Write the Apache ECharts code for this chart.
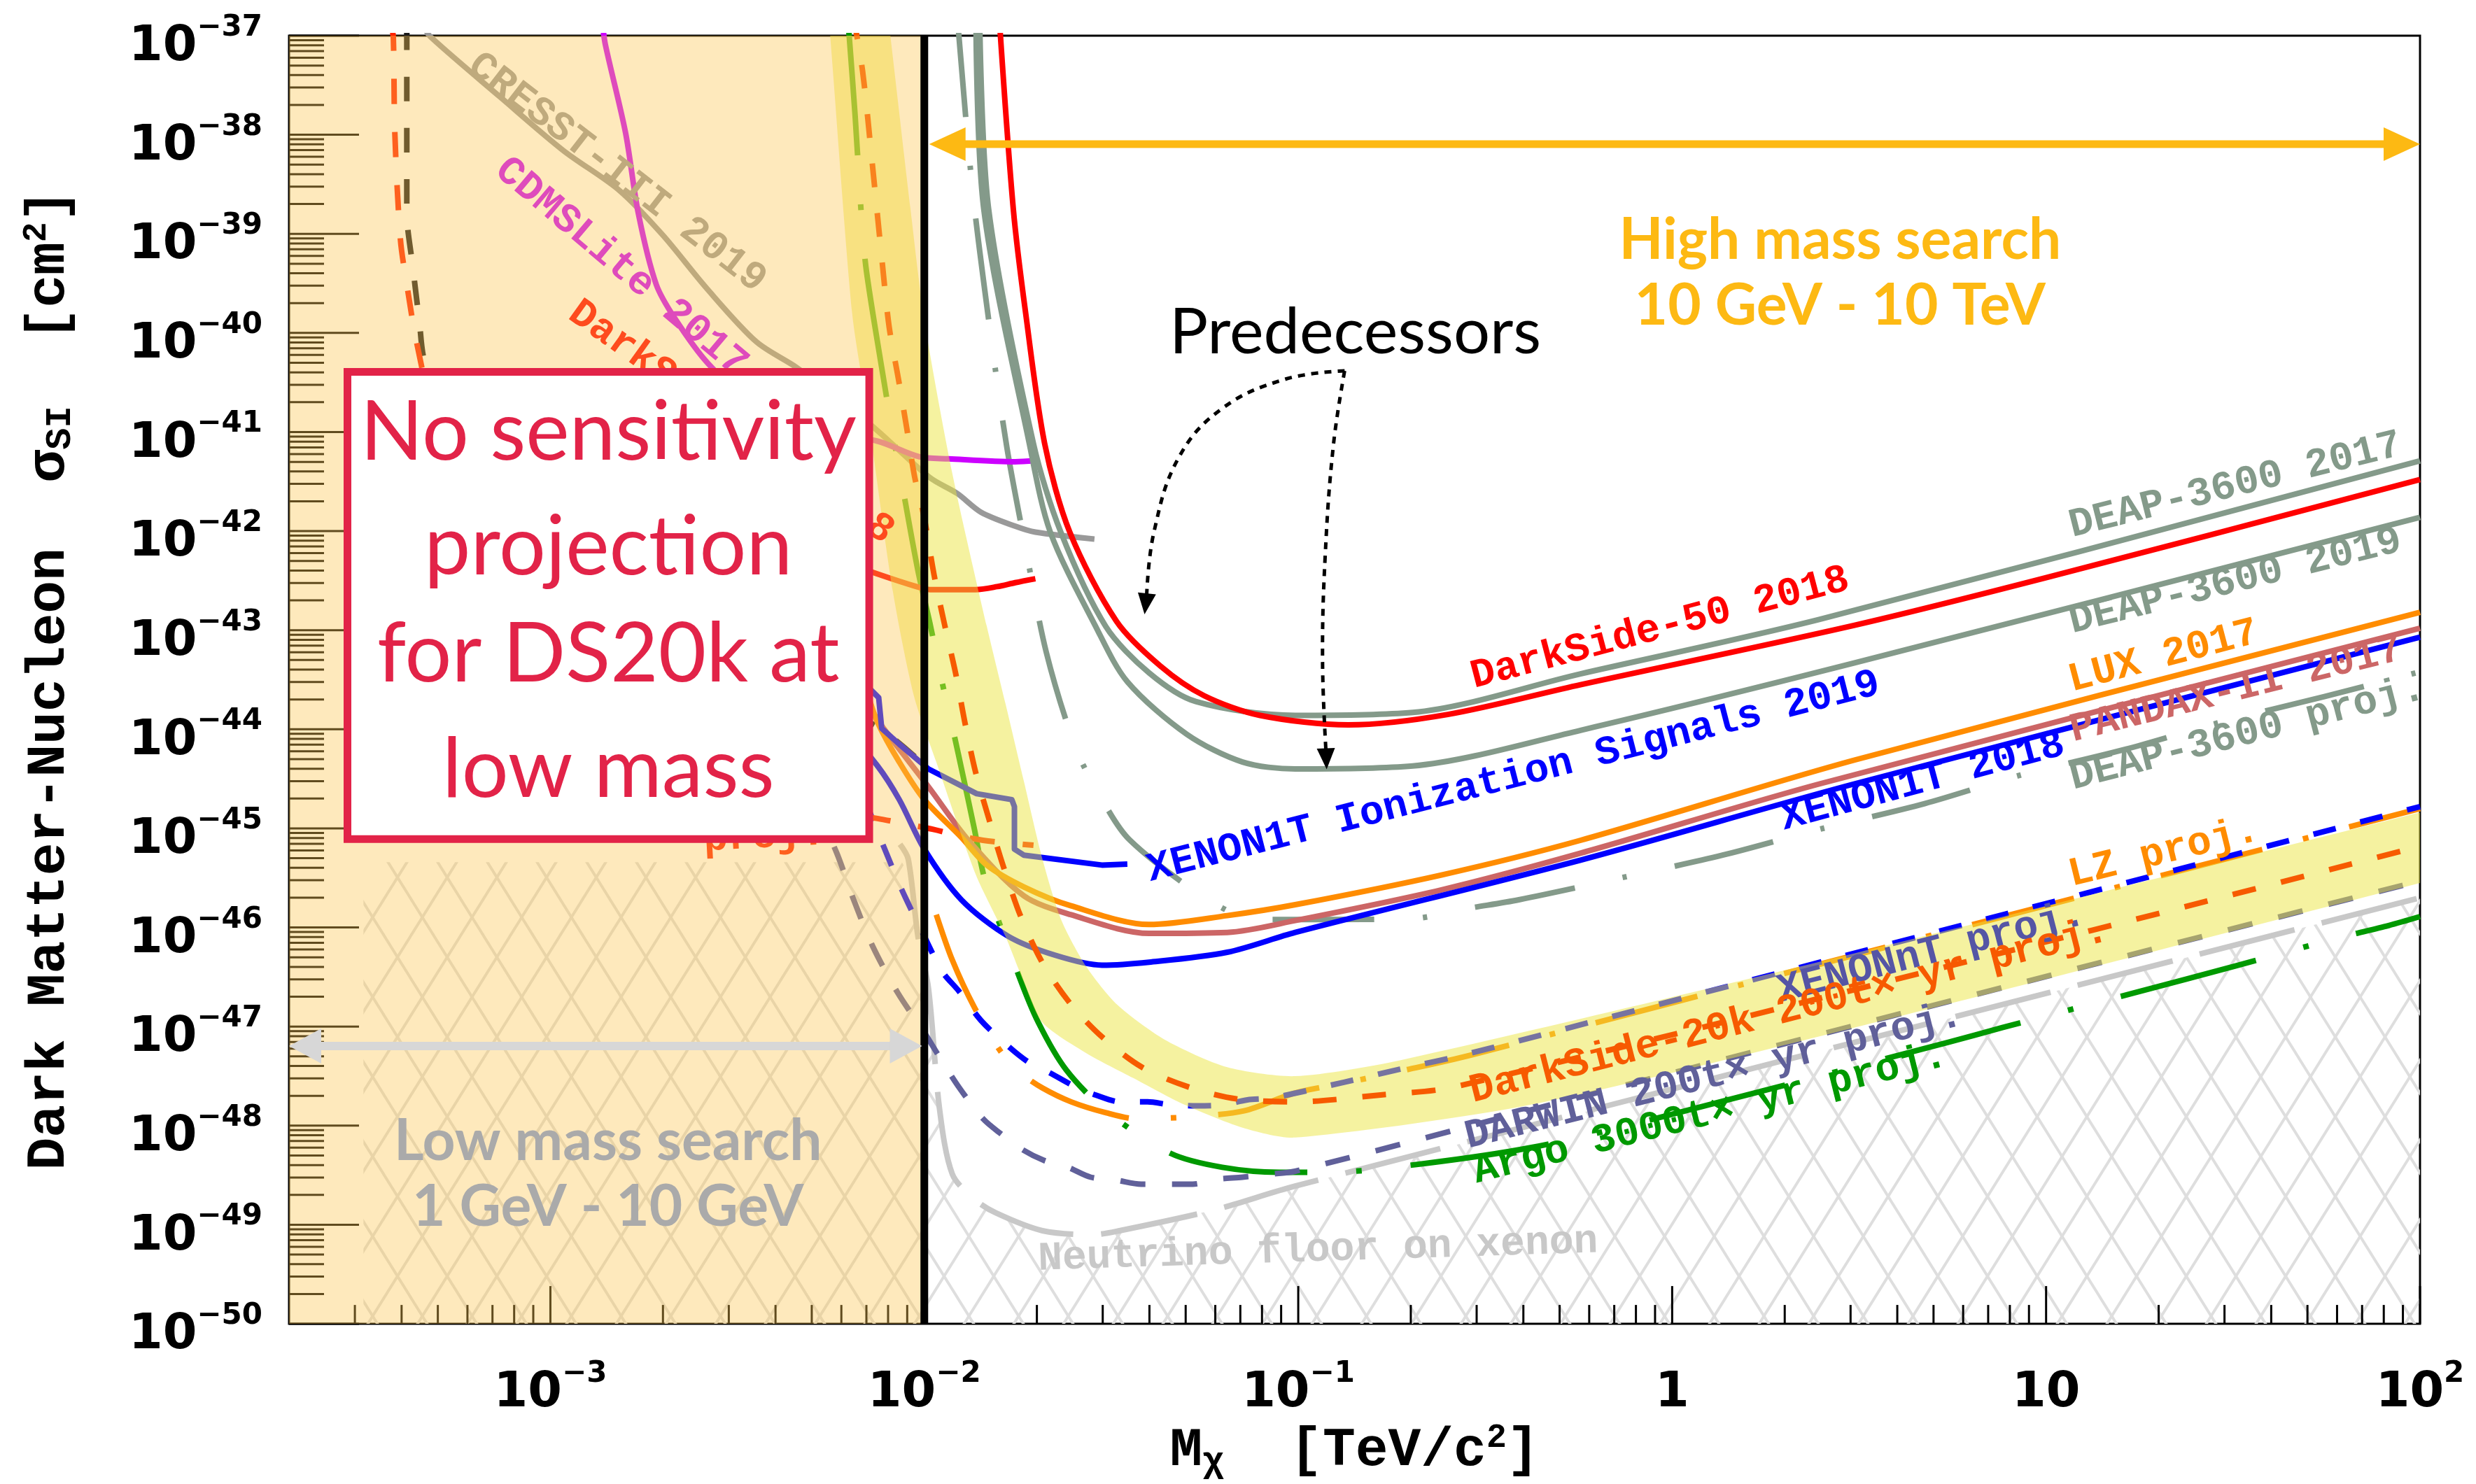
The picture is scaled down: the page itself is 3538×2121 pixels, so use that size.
<!DOCTYPE html>
<html>
<head>
<meta charset="utf-8">
<title>Dark Matter SI limits</title>
<script src="https://cdn.jsdelivr.net/npm/echarts@6.0.0/dist/echarts.min.js"></script>
<style>
html,body{margin:0;padding:0;background:#ffffff;}
#chart{width:3538px;height:2121px;}
</style>
</head>
<body>
<div id="chart"></div>
<script>
// ===== Data: every point is [log10(M / TeV), log10(sigma_SI / cm^2)] =====
const darkside50 = [[-1.800,-36.8],[-1.762,-38.75],[-1.729,-39.80],[-1.678,-41.12],[-1.611,-42.01],[-1.486,-42.91],[-1.369,-43.36],[-1.252,-43.66],[-1.102,-43.86],[-0.866,-43.955],[-0.600,-43.85],[-0.245,-43.55],[0.488,-42.95],[1.000,-42.47],[2.000,-41.48]];
const deap2017 = [[-1.852,-36.8],[-1.828,-38.75],[-1.708,-41.12],[-1.635,-42.01],[-1.515,-42.96],[-1.399,-43.43],[-1.274,-43.72],[-1.008,-43.86],[-0.694,-43.83],[-0.245,-43.44],[0.395,-42.89],[2.000,-41.29]];
const deap2019 = [[-1.862,-36.8],[-1.841,-38.75],[-1.719,-41.12],[-1.663,-42.01],[-1.542,-42.96],[-1.457,-43.52],[-1.298,-44.05],[-1.149,-44.33],[-1.008,-44.40],[-0.694,-44.37],[-0.245,-44.01],[0.488,-43.33],[2.000,-41.86]];
const deapProj = [[-1.912,-36.8],[-1.871,-38.56],[-1.820,-40.09],[-1.779,-41.16],[-1.729,-42.17],[-1.674,-43.22],[-1.596,-44.18],[-1.532,-44.66],[-1.450,-45.12],[-1.240,-45.72],[-1.111,-45.92],[-0.952,-45.92],[-0.694,-45.91],[-0.550,-45.81],[-0.410,-45.72],[-0.150,-45.51],[0.135,-45.27],[0.393,-45.01],[0.675,-44.75],[0.924,-44.47],[1.214,-44.20],[1.465,-43.93],[1.744,-43.67],[2.000,-43.42]];
const lux2017 = [[-2.150,-43.66],[-2.125,-43.93],[-2.067,-44.33],[-2.000,-44.71],[-1.901,-45.09],[-1.833,-45.37],[-1.734,-45.59],[-1.609,-45.78],[-1.399,-45.97],[-1.190,-45.88],[-1.008,-45.77],[-0.617,-45.47],[-0.245,-45.12],[0.488,-44.31],[2.000,-42.82]];
const pandax2017 = [[-2.150,-43.75],[-2.115,-43.96],[-1.987,-44.59],[-1.882,-45.12],[-1.734,-45.68],[-1.609,-45.87],[-1.399,-46.06],[-1.190,-46.05],[-1.008,-45.93],[-0.617,-45.62],[-0.245,-45.25],[0.395,-44.55],[2.000,-42.98]];
const xenon1t2018 = [[-2.250,-43.80],[-2.125,-44.37],[-2.067,-44.71],[-2.000,-45.21],[-1.901,-45.72],[-1.775,-46.09],[-1.650,-46.28],[-1.525,-46.38],[-1.399,-46.35],[-1.190,-46.25],[-1.008,-46.05],[-0.245,-45.32],[0.488,-44.55],[2.000,-43.07]];
const xenon1tS2 = [[-2.250,-43.20],[-2.122,-43.68],[-2.114,-43.99],[-2.067,-44.15],[-1.989,-44.40],[-1.860,-44.65],[-1.766,-44.71],[-1.759,-44.78],[-1.759,-45.21],[-1.734,-45.27],[-1.525,-45.37],[-1.457,-45.36]];
const cdmslite2017 = [[-2.860,-36.9],[-2.853,-37.09],[-2.799,-37.98],[-2.765,-38.79],[-2.717,-39.51],[-2.666,-39.86],[-2.578,-40.31],[-2.449,-40.75],[-2.299,-40.99],[-2.127,-41.09],[-2.013,-41.25],[-1.935,-41.27],[-1.757,-41.30],[-1.703,-41.29]];
const cresst2019 = [[-3.340,-36.9],[-3.321,-37.01],[-3.134,-37.62],[-2.965,-38.16],[-2.816,-38.56],[-2.700,-39.01],[-2.582,-39.55],[-2.449,-40.09],[-2.341,-40.35],[-2.225,-40.68],[-2.127,-40.98],[-1.985,-41.46],[-1.912,-41.62],[-1.848,-41.81],[-1.757,-41.95],[-1.703,-42.01],[-1.545,-42.08]];
const darkside50Low = [[-2.300,-42.20],[-2.127,-42.43],[-2.021,-42.56],[-1.985,-42.59],[-1.863,-42.59],[-1.805,-42.56],[-1.757,-42.52],[-1.703,-42.48]];
const ds20kLowProj = [[-3.425,-36.9],[-3.420,-37.02],[-3.416,-37.98],[-3.401,-39.06],[-3.384,-39.51],[-3.358,-40.09],[-3.310,-40.85],[-3.197,-41.91],[-2.973,-42.96],[-2.599,-44.22],[-2.318,-44.78],[-2.125,-44.90],[-2.043,-44.96],[-1.976,-45.01],[-1.901,-45.08],[-1.843,-45.12],[-1.766,-45.15],[-1.708,-45.17]];
const blackDashed = [[-3.384,-36.9],[-3.384,-38.79],[-3.368,-39.33],[-3.351,-39.86],[-3.334,-40.31],[-3.287,-40.50],[-3.160,-41.69],[-2.973,-42.40],[-2.692,-43.10],[-2.412,-43.59],[-2.225,-43.84],[-2.131,-43.96],[-2.015,-44.31]];
const darwinProj = [[-2.299,-44.71],[-2.234,-45.25],[-2.189,-45.72],[-2.138,-46.19],[-2.071,-46.66],[-2.000,-47.06],[-1.959,-47.31],[-1.906,-47.62],[-1.843,-47.93],[-1.796,-48.08],[-1.738,-48.24],[-1.680,-48.35],[-1.616,-48.42],[-1.555,-48.52],[-1.487,-48.55],[-1.420,-48.59],[-1.349,-48.59],[-1.282,-48.59],[-1.216,-48.54],[-1.149,-48.52],[-1.081,-48.49],[-1.008,-48.46],[-0.245,-47.71],[0.498,-46.98],[2.000,-45.53]];
const xenonntProj = [[-2.159,-44.71],[-2.109,-45.18],[-2.060,-45.62],[-2.000,-46.09],[-1.951,-46.45],[-1.908,-46.64],[-1.848,-46.94],[-1.775,-47.20],[-1.721,-47.36],[-1.663,-47.47],[-1.600,-47.60],[-1.542,-47.69],[-1.474,-47.76],[-1.403,-47.76],[-1.341,-47.79],[-1.270,-47.80],[-1.203,-47.79],[-1.136,-47.74],[-1.070,-47.72],[-0.876,-47.56],[-0.728,-47.43],[-0.541,-47.27],[0.447,-46.30],[2.000,-44.78]];
const lzProj = [[-1.968,-45.87],[-1.925,-46.33],[-1.867,-46.80],[-1.796,-47.25],[-1.738,-47.48],[-1.684,-47.62],[-1.607,-47.76],[-1.514,-47.87],[-1.433,-47.93],[-1.287,-47.91],[-1.145,-47.85],[-1.008,-47.67],[-0.876,-47.57],[-0.728,-47.45],[-0.541,-47.29],[0.447,-46.32],[2.000,-44.80]];
const ds20kProj = [[-2.190,-36.8],[-2.165,-37.36],[-2.140,-38.26],[-2.112,-39.31],[-2.094,-39.94],[-2.069,-40.47],[-2.047,-40.96],[-2.026,-41.45],[-2.000,-41.87],[-1.974,-42.44],[-1.946,-42.94],[-1.916,-43.44],[-1.891,-43.94],[-1.863,-44.43],[-1.826,-44.92],[-1.789,-45.38],[-1.742,-45.89],[-1.682,-46.37],[-1.607,-46.78],[-1.523,-47.11],[-1.418,-47.41],[-1.293,-47.61],[-1.164,-47.73],[-1.008,-47.76],[-0.780,-47.69],[-0.584,-47.61],[1.121,-46.03],[2.000,-45.18]];
const ds20kBandUpper = [[-2.110,-36.4],[-2.097,-36.8],[-2.037,-38.75],[-2.000,-39.87],[-1.925,-41.42],[-1.833,-42.96],[-1.783,-43.74],[-1.734,-44.52],[-1.684,-45.31],[-1.633,-45.93],[-1.566,-46.40],[-1.484,-46.78],[-1.358,-47.13],[-1.190,-47.41],[-1.008,-47.50],[-0.728,-47.34],[0.488,-46.26],[2.000,-44.84],[2.150,-44.70]];
const ds20kBandLower = [[-2.268,-36.4],[-2.256,-36.8],[-2.193,-39.80],[-2.150,-40.85],[-2.084,-42.61],[-2.028,-43.66],[-1.968,-44.33],[-1.863,-45.46],[-1.783,-46.09],[-1.734,-46.55],[-1.684,-46.96],[-1.566,-47.27],[-1.441,-47.52],[-1.315,-47.77],[-1.149,-48.02],[-1.008,-48.12],[-0.367,-47.78],[0.582,-46.92],[2.000,-45.55],[2.150,-45.41]];
const argoProj = [[-2.205,-36.8],[-2.185,-37.81],[-2.168,-38.83],[-2.155,-39.37],[-2.114,-40.35],[-2.090,-40.89],[-2.064,-41.43],[-2.017,-42.40],[-1.985,-42.93],[-1.955,-43.48],[-1.923,-44.01],[-1.897,-44.46],[-1.867,-44.99],[-1.837,-45.53],[-1.749,-46.47],[-1.695,-46.96],[-1.620,-47.44],[-1.508,-47.87],[-1.341,-48.28],[-1.203,-48.42],[-1.051,-48.47],[-0.915,-48.47],[-0.659,-48.38],[-0.376,-48.22],[-0.099,-47.98],[0.737,-47.16],[0.883,-47.01],[1.235,-46.66],[1.515,-46.38],[1.776,-46.11],[1.916,-45.98],[2.000,-45.89]];
const neutrinoFloor = [[-2.065,-45.16],[-2.043,-45.31],[-2.017,-46.09],[-1.989,-46.61],[-1.959,-47.84],[-1.925,-48.49],[-1.867,-48.74],[-1.809,-48.88],[-1.684,-49.06],[-1.549,-49.10],[-1.478,-49.06],[-1.224,-48.85],[-1.008,-48.61],[2.000,-45.70]];
const neutrinoHatch = [[-3.500,-50],[-3.500,-45.34],[-2.060,-45.34],[-2.043,-45.45],[-2.017,-46.09],[-1.989,-46.61],[-1.959,-47.84],[-1.925,-48.49],[-1.867,-48.74],[-1.809,-48.88],[-1.684,-49.06],[-1.549,-49.10],[-1.478,-49.06],[-1.224,-48.85],[-1.008,-48.61],[2.000,-45.70],[2.000,-50]];

// ===== Axes & tick labels =====
const X_MIN = Math.log10(2e-4), X_MAX = 2, Y_MIN = -50, Y_MAX = -37;
const xTickValues = [-3, -2, -1, 0, 1, 2];
const xTickLabels = ['{m|10}{s|\u22123}', '{m|10}{s|\u22122}', '{m|10}{s|\u22121}', '{m|1}', '{m|10}', '{m|10}{s|2}'];
const yTickValues = [-50,-49,-48,-47,-46,-45,-44,-43,-42,-41,-40,-39,-38,-37];
const yTickLabels = yTickValues.map(v => '{m|10}{s|\u2212' + (-v) + '}');
const xTitle = '{m|M}{sub|\u03C7}{m|  [TeV/c}{sup|2}{m|]}';
const yTitle = '{m|Dark Matter-Nucleon  \u03C3}{sub|SI}{m|  [cm}{sup|2}{m|]}';

// ===== Annotations (positions in data coordinates) =====
const curveLabels = [
  {t:'DarkSide-50 2018', p:[-0.528,-43.604], a:14.7, c:'#FF0000'},
  {t:'DEAP-3600 2017', p:[1.072,-42.081], a:14.0, c:'#849A8A'},
  {t:'DEAP-3600 2019', p:[1.072,-43.049], a:14.0, c:'#849A8A'},
  {t:'LUX 2017', p:[1.070,-43.639], a:14.7, c:'#FF8C00'},
  {t:'PANDAX-II 2017', p:[1.074,-44.144], a:14.0, c:'#CC6666'},
  {t:'DEAP-3600 proj.', p:[1.074,-44.628], a:14.5, c:'#849A8A'},
  {t:'XENON1T 2018', p:[0.301,-45.035], a:15.0, c:'#0000FF'},
  {t:'XENON1T Ionization Signals 2019', p:[-1.394,-45.554], a:14.4, c:'#0000FF'},
  {t:'LZ proj.', p:[1.070,-45.604], a:13.8, c:'#FF8C00'},
  {t:'XENONnT proj.', p:[0.292,-46.775], a:14.4, c:'#5555A5'},
  {t:'DarkSide-20k 200t\u00D7 yr proj.', p:[-0.531,-47.786], a:14.3, c:'#F75A00'},
  {t:'DARWIN 200t\u00D7 yr proj.', p:[-0.544,-48.249], a:14.0, c:'#60609A'},
  {t:'Argo 3000t\u00D7 yr proj.', p:[-0.522,-48.600], a:14.0, c:'#009900'},
  {t:'Neutrino floor on xenon', p:[-1.695,-49.477], a:1.8, c:'#C8C8C8'},
  {t:'CRESST-III 2019', p:[-3.229,-37.358], a:-37.8, c:'#999999'},
  {t:'CDMSLite 2017', p:[-3.156,-38.404], a:-40.2, c:'#CC00FF'},
  {t:'DarkSide-50 2018', p:[-2.960,-39.863], a:-35.6, c:'#FF0000'},
  {t:'proj.', p:[-2.589,-45.246], a:3, c:'#FF2200'}
];
const boxCorners = [[-3.553,-40.354],[-2.137,-45.147]];
const boxLines = [
  {t:'No sensitivity', p:[-2.845,-41.007]},
  {t:'projection', p:[-2.845,-42.165]},
  {t:'for DS20k at', p:[-2.845,-43.246]},
  {t:'low mass', p:[-2.845,-44.411]}
];
const textNotes = [
  {t:'Predecessors', p:[-0.8475,-39.996], f:'400 92px Lato', c:'#000000'},
  {t:'High mass search', p:[0.449,-39.063], f:'bold 82px Lato', c:'#FDB913'},
  {t:'10 GeV - 10 TeV', p:[0.449,-39.730], f:'bold 82px Lato', c:'#FDB913'},
  {t:'Low mass search', p:[-2.846,-48.158], f:'bold 82px Lato', c:'#AAAAAA'},
  {t:'1 GeV - 10 GeV', p:[-2.846,-48.825], f:'bold 82px Lato', c:'#AAAAAA'}
];
const straightArrows = [
  {pts:[[-1.987,-38.095],[2.0,-38.095]], c:'#FDB913', w:11, hl:52, hw:24},
  {pts:[[X_MIN,-47.196],[-2.006,-47.196]], c:'#D7D7D7', w:12, hl:46, hw:25}
];
const dottedArrows = [
  [[-0.876,-40.382],[-1.035,-40.467],[-1.203,-40.761],[-1.319,-41.253],[-1.386,-42.011],[-1.411,-42.839]],
  [[-0.876,-40.382],[-0.906,-41.133],[-0.928,-42.256],[-0.935,-43.309],[-0.924,-44.404]]
];

// ===== Helpers =====
function makeHatch() {
  const w = 71, h = 114;
  const c = document.createElement('canvas');
  c.width = w; c.height = h;
  const g = c.getContext('2d');
  g.strokeStyle = '#DEDEDE'; g.lineWidth = 4;
  for (const dx of [-w, 0, w]) {
    g.beginPath(); g.moveTo(dx, 0); g.lineTo(dx + w, h); g.stroke();
    g.beginPath(); g.moveTo(dx + w, 0); g.lineTo(dx, h); g.stroke();
  }
  return c;
}
const hatchCanvas = makeHatch();

function L(name, data, color, width, type, z, smooth) {
  return {type:'line', name, data, z, symbol:'none', showSymbol:false,
    smooth: smooth === undefined ? 0.3 : smooth, clip:true, silent:true, animation:false,
    lineStyle:{color, width, type, cap:'butt', join:'round'}};
}
function single(z, render) {
  return {type:'custom', z, silent:true, animation:false, data:[[X_MIN, Y_MIN]], renderItem: render};
}
function gridClip(params) {
  const cs = params.coordSys;
  return {type:'rect', shape:{x:cs.x, y:cs.y, width:cs.width, height:cs.height}};
}
function head(tip, from, hl, hw, color) {
  const dx = tip[0] - from[0], dy = tip[1] - from[1];
  const len = Math.hypot(dx, dy) || 1, ux = dx / len, uy = dy / len;
  const bx = tip[0] - ux * hl, by = tip[1] - uy * hl;
  return {type:'polygon', shape:{points:[[tip[0], tip[1]], [bx - uy * hw, by + ux * hw], [bx + uy * hw, by - ux * hw]]}, style:{fill:color}};
}

// ticks
const tickData = [];
xTickValues.forEach(v => tickData.push([v, Y_MIN, 0, 54]));
for (let k = -4; k <= 1; k++) for (let m = 2; m <= 9; m++) {
  const v = k + Math.log10(m); if (v > X_MIN && v < X_MAX) tickData.push([v, Y_MIN, 0, 27]);
}
yTickValues.forEach(v => tickData.push([X_MIN, v, 1, 100]));
for (let k = -51; k <= -38; k++) for (let m = 2; m <= 9; m++) {
  const v = k + Math.log10(m); if (v > Y_MIN && v < Y_MAX) tickData.push([X_MIN, v, 1, 50]);
}

const tickRich = {
  m:{fontFamily:'DejaVu Sans', fontWeight:'bold', fontSize:70, lineHeight:84, verticalAlign:'bottom', color:'#000'},
  s:{fontFamily:'DejaVu Sans', fontWeight:'bold', fontSize:42, lineHeight:30, verticalAlign:'top', color:'#000'}
};
const titleRich = {
  m:{fontFamily:'Liberation Mono', fontWeight:'bold', fontSize:78, lineHeight:84, verticalAlign:'middle', color:'#000'},
  sub:{fontFamily:'Liberation Mono', fontWeight:'bold', fontSize:52, lineHeight:20, verticalAlign:'bottom', color:'#000'},
  sup:{fontFamily:'Liberation Mono', fontWeight:'bold', fontSize:48, lineHeight:20, verticalAlign:'top', color:'#000'}
};

const series = [
  // neutrino-floor hatch
  single(1, (params, api) => ({type:'polygon', shape:{points: neutrinoHatch.map(q => api.coord(q))},
    style:{fill:{image:hatchCanvas, repeat:'repeat'}, stroke:null}})),
  // ticks
  {type:'custom', z:2, silent:true, animation:false, data: tickData,
    renderItem: (params, api) => {
      const p = api.coord([api.value(0), api.value(1)]);
      const len = api.value(3);
      const shape = api.value(2) === 1 ? {x1:p[0], y1:p[1], x2:p[0] + len, y2:p[1]} : {x1:p[0], y1:p[1], x2:p[0], y2:p[1] - len};
      return {type:'line', shape, style:{stroke:'#000', lineWidth:3}};
    }},
  L('Neutrino floor', neutrinoFloor, '#C8C8C8', 8, [140, 40], 3),
  L('Argo', argoProj, '#009900', 8, [200, 70, 8, 70], 3),
  L('DARWIN', darwinProj, '#60609A', 8, [36, 38], 3),
  L('LZ', lzProj, '#FF8C00', 8, [150, 60, 8, 60], 3),
  L('XENONnT', xenonntProj, '#0000FF', 8, [33, 36], 3),
  L('DEAP proj', deapProj, '#849A8A', 8, [145, 70, 6, 70], 3),
  L('Black dashed', blackDashed, '#1A1A1A', 8, [35, 38], 3),
  L('DS20k low', ds20kLowProj, '#FF2200', 8, [36, 40], 3),
  L('CRESST-III', cresst2019, '#999999', 8, 'solid', 3),
  L('CDMSLite', cdmslite2017, '#CC00FF', 8, 'solid', 3),
  L('DS50 low', darkside50Low, '#FF0000', 8, 'solid', 3),
  L('PandaX-II', pandax2017, '#CC6666', 8, 'solid', 3),
  L('LUX', lux2017, '#FF8C00', 8, 'solid', 3),
  L('XENON1T', xenon1t2018, '#0000FF', 8, 'solid', 3),
  L('XENON1T S2', xenon1tS2, '#0000FF', 8, 'solid', 3, false),
  L('DEAP 2019', deap2019, '#849A8A', 8, 'solid', 3),
  L('DEAP 2017', deap2017, '#849A8A', 8, 'solid', 3),
  L('DarkSide-50', darkside50, '#FF0000', 8, 'solid', 3),
  // DS20k uncertainty band
  single(5, (params, api) => ({type:'polygon',
    shape:{points: ds20kBandUpper.concat(ds20kBandLower.slice().reverse()).map(q => api.coord(q)), smooth:0.25},
    style:{fill:'rgba(235,230,65,0.5)'}, clipPath: gridClip(params)})),
  L('DarkSide-20k', ds20kProj, '#F75A00', 8, [34, 37], 6),
  // curve labels
  {type:'custom', z:7, silent:true, animation:false, data: curveLabels.map((l, i) => [l.p[0], l.p[1], i]),
    renderItem: (params, api) => {
      const l = curveLabels[api.value(2)];
      const p = api.coord([api.value(0), api.value(1)]);
      return {type:'text', x:p[0], y:p[1], rotation: l.a * Math.PI / 180,
        style:{text:l.t, x:0, y:11, fill:l.c, font:'bold 58px "Liberation Mono"', textAlign:'left', textVerticalAlign:'bottom'}};
    }},
  // low-mass overlay
  single(10, (params, api) => {
    const a = api.coord([X_MIN, Y_MAX]), b = api.coord([-2, Y_MIN]);
    return {type:'rect', shape:{x:a[0], y:a[1], width:b[0] - a[0], height:b[1] - a[1]}, style:{fill:'rgba(252,196,80,0.38)'}};
  }),
  // 10 GeV black line
  single(11, (params, api) => {
    const a = api.coord([-2, Y_MAX]), b = api.coord([-2, Y_MIN]);
    return {type:'line', shape:{x1:a[0], y1:a[1], x2:b[0], y2:b[1]}, style:{stroke:'#000', lineWidth:11}};
  }),
  // arrows
  single(12, (params, api) => {
    const children = [];
    straightArrows.forEach(ar => {
      const a = api.coord(ar.pts[0]), b = api.coord(ar.pts[1]);
      const dx = b[0] - a[0], dy = b[1] - a[1], len = Math.hypot(dx, dy), ux = dx / len, uy = dy / len;
      const s = ar.hl * 0.8;
      children.push({type:'line', shape:{x1:a[0] + ux * s, y1:a[1] + uy * s, x2:b[0] - ux * s, y2:b[1] - uy * s}, style:{stroke:ar.c, lineWidth:ar.w}});
      children.push(head(b, a, ar.hl, ar.hw, ar.c));
      children.push(head(a, b, ar.hl, ar.hw, ar.c));
    });
    dottedArrows.forEach(pts => {
      const px = pts.map(q => api.coord(q));
      const tip = px[px.length - 1], prev = px[px.length - 2];
      const dx = tip[0] - prev[0], dy = tip[1] - prev[1], len = Math.hypot(dx, dy);
      const base = [tip[0] - dx / len * 26, tip[1] - dy / len * 26];
      const line = px.slice(0, -1).concat([base]);
      children.push({type:'polyline', shape:{points:line, smooth:0.4}, style:{stroke:'#000', lineWidth:5, lineDash:[10, 9], fill:null}});
      children.push(head(tip, prev, 30, 13, '#000'));
    });
    return {type:'group', children};
  }),
  // red box
  single(12, (params, api) => {
    const a = api.coord(boxCorners[0]), b = api.coord(boxCorners[1]);
    return {type:'rect', shape:{x:a[0] + 5.5, y:a[1] + 5.5, width:b[0] - a[0] - 11, height:b[1] - a[1] - 11},
      style:{fill:'#FFFFFF', stroke:'#E22348', lineWidth:11}};
  }),
  // texts
  {type:'custom', z:13, silent:true, animation:false,
    data: boxLines.map((l, i) => [l.p[0], l.p[1], i]),
    renderItem: (params, api) => {
      const l = boxLines[api.value(2)];
      const p = api.coord([api.value(0), api.value(1)]);
      return {type:'text', x:p[0], y:p[1], style:{text:l.t, x:0, y:0, fill:'#E22348', font:'400 118px Lato', textAlign:'center', textVerticalAlign:'middle'}};
    }},
  {type:'custom', z:13, silent:true, animation:false,
    data: textNotes.map((l, i) => [l.p[0], l.p[1], i]),
    renderItem: (params, api) => {
      const l = textNotes[api.value(2)];
      const p = api.coord([api.value(0), api.value(1)]);
      return {type:'text', x:p[0], y:p[1], style:{text:l.t, x:0, y:0, fill:l.c, font:l.f, textAlign:'center', textVerticalAlign:'middle'}};
    }}
];

const chart = echarts.init(document.getElementById('chart'), null, {renderer:'canvas', width:3538, height:2121});
chart.setOption({
  animation:false,
  backgroundColor:'#ffffff',
  grid:{left:413, top:51, right:80, bottom:217, show:true, borderColor:'#000', borderWidth:3, backgroundColor:'#ffffff', containLabel:false},
  xAxis:{type:'value', min:X_MIN, max:X_MAX, splitLine:{show:false}, axisLine:{show:false}, axisTick:{show:false},
    axisLabel:{customValues:xTickValues, margin:51, color:'#000', rich:tickRich,
      formatter: v => { const i = xTickValues.indexOf(Math.round(v)); return (i >= 0 && Math.abs(v - Math.round(v)) < 1e-6) ? xTickLabels[i] : ''; }},
    name:xTitle, nameLocation:'middle', nameGap:115, nameTextStyle:{rich:titleRich, color:'#000'}},
  yAxis:{type:'value', min:Y_MIN, max:Y_MAX, interval:1, splitLine:{show:false}, axisLine:{show:false}, axisTick:{show:false},
    axisLabel:{margin:38, color:'#000', rich:tickRich, padding:[20, 0, 0, 0], showMinLabel:true, showMaxLabel:true,
      formatter: v => { const i = yTickValues.indexOf(Math.round(v)); return i >= 0 ? yTickLabels[i] : ''; }},
    name:yTitle, nameLocation:'middle', nameRotate:90, nameGap:300, nameTextStyle:{rich:titleRich, color:'#000'}},
  series
});
</script>
</body>
</html>
